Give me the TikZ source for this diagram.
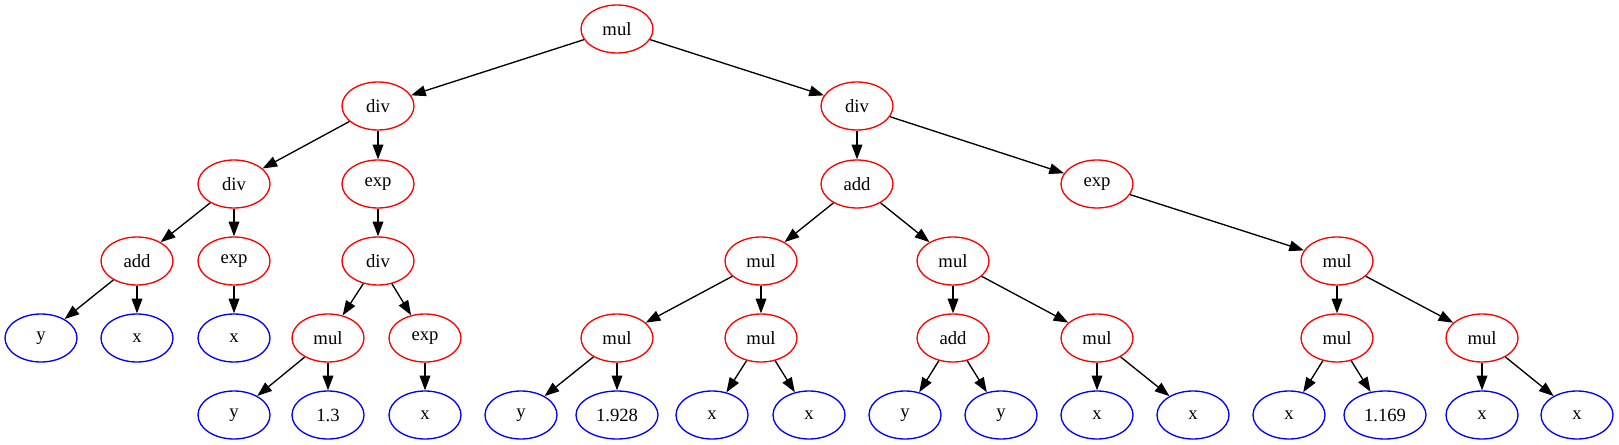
\documentclass[tikz,border=0pt]{standalone}
\usepackage{fontspec}
\setmainfont{Liberation Serif}
\usepackage{tikz}
\usetikzlibrary{shapes.geometric, arrows.meta}
\definecolor{OpRed}{RGB}{255,0,0}
\definecolor{VarBlue}{RGB}{0,0,255}

\begin{document}
\begin{tikzpicture}[x=0.75pt, y=-0.75pt,
          op/.style={ellipse, draw=OpRed, line width=1pt, minimum width=54pt,
                     minimum height=36pt, inner xsep=6pt, inner ysep=2pt,
                     font=\fontsize{14}{16}\selectfont},
          var/.style={op, draw=VarBlue},
          arr/.style={-{Triangle[length=11pt, width=8pt]}, line width=1pt}
        ]
        \useasboundingbox (0,0) rectangle (1619,445);

        % Root and first split
        \node[op] (root) at (617, 29) {mul};
        \node[op] (divL) at (378, 106) {div};
        \node[op] (divR) at (857, 106) {div};
        \draw[arr] (root)--(divL);
        \draw[arr] (root)--(divR);

        % Left branch: div(add(y,x), exp(x)) / exp(div(...))
        \node[op] (divLL) at (234, 184) {div};
        \node[op] (expL) at (378, 184) {exp};
        \draw[arr] (divL)--(divLL);
        \draw[arr] (divL)--(expL);

        \node[op] (addA) at (137, 261) {add};
        \node[op] (expA) at (234, 261) {exp};
        \draw[arr] (divLL)--(addA);
        \draw[arr] (divLL)--(expA);
        \node[var] (yA) at (41, 338) {y};
        \node[var] (xA) at (137, 338) {x};
        \node[var] (xB) at (234, 338) {x};
        \draw[arr] (addA)--(yA);
        \draw[arr] (addA)--(xA);
        \draw[arr] (expA)--(xB);

        \node[op] (divB) at (378, 261) {div};
        \draw[arr] (expL)--(divB);
        \node[op] (mulB) at (328, 338) {mul};
        \node[op] (expB) at (425, 338) {exp};
        \draw[arr] (divB)--(mulB);
        \draw[arr] (divB)--(expB);
        \node[var] (yB) at (234, 415) {y};
        \node[var] (cB) at (328, 415) {1.3};
        \node[var] (xC) at (425, 415) {x};
        \draw[arr] (mulB)--(yB);
        \draw[arr] (mulB)--(cB);
        \draw[arr] (expB)--(xC);

        % Right branch: add(...) / exp(mul(...))
        \node[op] (addR) at (857, 184) {add};
        \node[op] (expR) at (1097, 184) {exp};
        \draw[arr] (divR)--(addR);
        \draw[arr] (divR)--(expR);

        \node[op] (mulC) at (761, 261) {mul};
        \node[op] (mulD) at (953, 261) {mul};
        \draw[arr] (addR)--(mulC);
        \draw[arr] (addR)--(mulD);

        \node[op] (mulE) at (617, 338) {mul};
        \node[op] (mulF) at (761, 338) {mul};
        \draw[arr] (mulC)--(mulE);
        \draw[arr] (mulC)--(mulF);
        \node[var] (yC) at (521, 415) {y};
        \node[var] (cC) at (617, 415) {1.928};
        \node[var] (xD) at (712, 415) {x};
        \node[var] (xE) at (809, 415) {x};
        \draw[arr] (mulE)--(yC);
        \draw[arr] (mulE)--(cC);
        \draw[arr] (mulF)--(xD);
        \draw[arr] (mulF)--(xE);

        \node[op] (addD) at (953, 338) {add};
        \node[op] (mulG) at (1097, 338) {mul};
        \draw[arr] (mulD)--(addD);
        \draw[arr] (mulD)--(mulG);
        \node[var] (yD) at (905, 415) {y};
        \node[var] (yE) at (1001, 415) {y};
        \node[var] (xF) at (1097, 415) {x};
        \node[var] (xG) at (1193, 415) {x};
        \draw[arr] (addD)--(yD);
        \draw[arr] (addD)--(yE);
        \draw[arr] (mulG)--(xF);
        \draw[arr] (mulG)--(xG);

        \node[op] (mulH) at (1337, 261) {mul};
        \draw[arr] (expR)--(mulH);
        \node[op] (mulI) at (1337, 338) {mul};
        \node[op] (mulJ) at (1482, 338) {mul};
        \draw[arr] (mulH)--(mulI);
        \draw[arr] (mulH)--(mulJ);
        \node[var] (xH) at (1289, 415) {x};
        \node[var] (cD) at (1385, 415) {1.169};
        \node[var] (xI) at (1482, 415) {x};
        \node[var] (xJ) at (1577, 415) {x};
        \draw[arr] (mulI)--(xH);
        \draw[arr] (mulI)--(cD);
        \draw[arr] (mulJ)--(xI);
        \draw[arr] (mulJ)--(xJ);
      \end{tikzpicture}
\end{document}
